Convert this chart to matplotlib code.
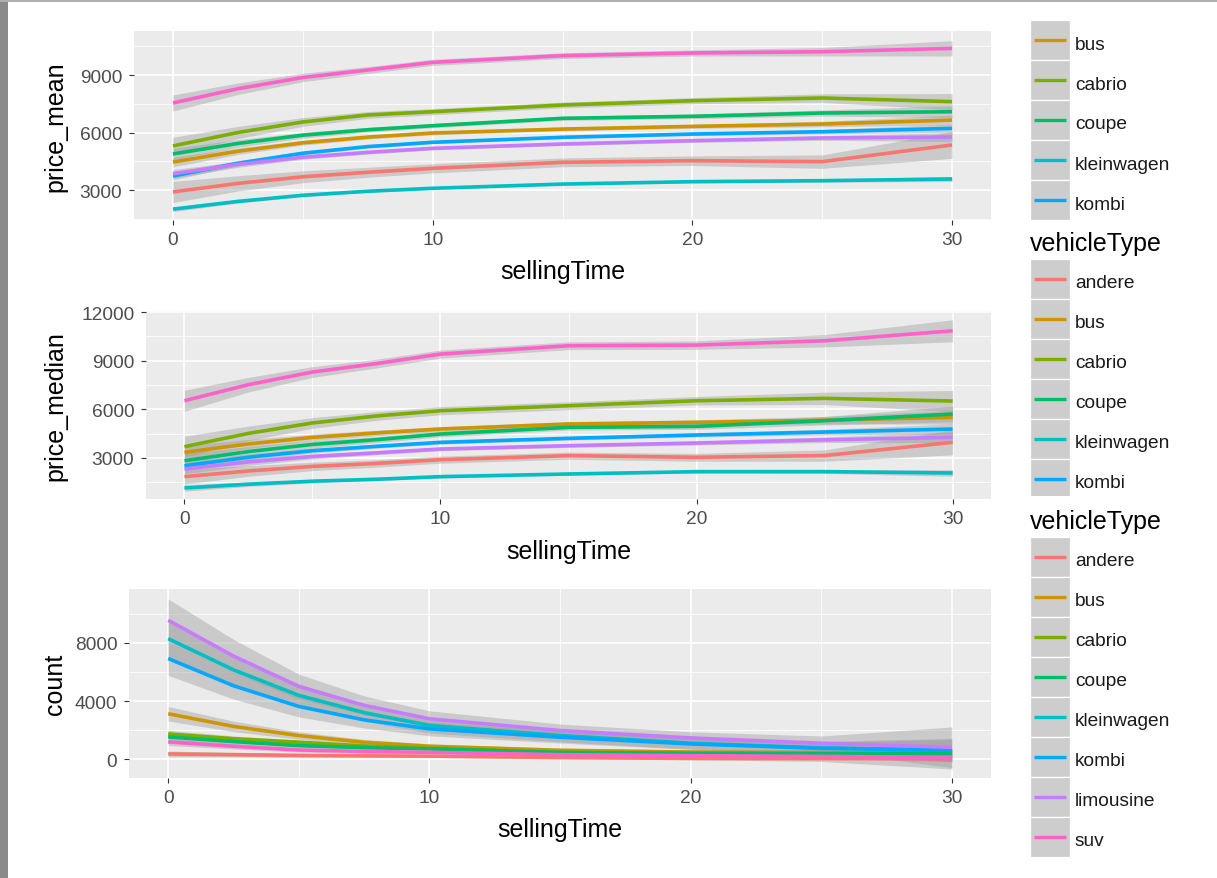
import matplotlib
matplotlib.use('Agg')
import matplotlib.pyplot as plt
from matplotlib.patches import Rectangle
from matplotlib.lines import Line2D
from matplotlib.transforms import Bbox, TransformedBbox

plt.rcParams['font.family'] = ['Liberation Sans', 'DejaVu Sans']

# ---------------- data ----------------
selling_time = [0, 2.5, 5, 7.5, 10, 15, 20, 25, 30]
vehicle_types = ['andere', 'bus', 'cabrio', 'coupe', 'kleinwagen', 'kombi', 'limousine', 'suv']
type_colors = ['#F8766D', '#CD9600', '#7CAE00', '#00BE67', '#00BFC4', '#00A9FF', '#C77CFF', '#FF61CC']

price_mean = {
    'andere':     [2900, 3345, 3690, 3925, 4130, 4445, 4530, 4480, 5350],
    'bus':        [4460, 5025, 5465, 5760, 5974, 6180, 6320, 6443, 6650],
    'cabrio':     [5300, 6000, 6550, 6915, 7085, 7435, 7660, 7800, 7610],
    'coupe':      [4880, 5430, 5860, 6145, 6355, 6740, 6845, 7017, 7085],
    'kleinwagen': [2000, 2405, 2725, 2935, 3090, 3310, 3435, 3487, 3575],
    'kombi':      [3730, 4395, 4920, 5265, 5490, 5750, 5920, 6043, 6217],
    'limousine':  [3850, 4335, 4710, 4965, 5175, 5400, 5575, 5713, 5765],
    'suv':        [7540, 8285, 8870, 9260, 9660, 10010, 10150, 10215, 10390],
}
price_mean_se = {
    'andere':     [550, 400, 310, 260, 240, 230, 250, 350, 700],
    'bus':        [250, 170, 120, 100, 90, 90, 100, 140, 260],
    'cabrio':     [450, 320, 230, 180, 160, 150, 160, 220, 420],
    'coupe':      [300, 200, 150, 120, 110, 110, 120, 160, 300],
    'kleinwagen': [120, 90, 70, 60, 55, 55, 60, 80, 130],
    'kombi':      [200, 140, 100, 80, 70, 70, 80, 110, 220],
    'limousine':  [220, 150, 110, 90, 80, 80, 90, 120, 230],
    'suv':        [420, 300, 220, 180, 160, 150, 160, 220, 400],
}

price_median = {
    'andere':     [1850, 2200, 2480, 2665, 2897, 3144, 3041, 3150, 3965],
    'bus':        [3350, 3865, 4270, 4545, 4786, 5094, 5197, 5330, 5506],
    'cabrio':     [3696, 4517, 5160, 5590, 5915, 6223, 6530, 6677, 6511],
    'coupe':      [2834, 3395, 3835, 4130, 4478, 4889, 4950, 5300, 5711],
    'kleinwagen': [1152, 1385, 1570, 1690, 1850, 2014, 2158, 2160, 2076],
    'kombi':      [2526, 3045, 3450, 3720, 3965, 4212, 4417, 4600, 4786],
    'limousine':  [2322, 2755, 3095, 3320, 3554, 3760, 3924, 4120, 4273],
    'suv':        [6530, 7520, 8300, 8820, 9406, 9920, 9960, 10226, 10842],
}
price_median_se = {
    'andere':     [450, 330, 260, 230, 220, 220, 240, 350, 770],
    'bus':        [400, 280, 200, 170, 150, 150, 160, 230, 420],
    'cabrio':     [650, 450, 330, 270, 250, 240, 260, 380, 650],
    'coupe':      [450, 310, 230, 190, 170, 170, 180, 260, 480],
    'kleinwagen': [200, 140, 100, 80, 75, 75, 80, 110, 200],
    'kombi':      [300, 210, 150, 120, 110, 110, 120, 170, 320],
    'limousine':  [300, 210, 150, 120, 110, 110, 120, 170, 320],
    'suv':        [650, 450, 330, 270, 250, 240, 260, 380, 680],
}

count = {
    'andere':     [350, 300, 250, 220, 200, 100, 40, 30, 10],
    'bus':        [3120, 2250, 1615, 1150, 878, 600, 480, 440, 420],
    'cabrio':     [1730, 1400, 1157, 900, 740, 470, 400, 390, 400],
    'coupe':      [1520, 1200, 922, 780, 700, 450, 380, 360, 370],
    'kleinwagen': [8300, 6150, 4390, 3200, 2310, 1617, 1086, 762, 624],
    'kombi':      [6930, 5050, 3625, 2700, 2079, 1502, 1040, 740, 600],
    'limousine':  [9570, 7100, 5000, 3700, 2772, 1963, 1455, 1086, 808],
    'suv':        [1180, 880, 624, 520, 462, 300, 231, 180, 115],
}
count_se = {
    'andere':     [200, 150, 120, 100, 90, 80, 90, 200, 700],
    'bus':        [500, 360, 260, 200, 170, 150, 150, 180, 320],
    'cabrio':     [250, 190, 150, 120, 100, 90, 90, 120, 250],
    'coupe':      [250, 190, 150, 120, 100, 90, 90, 120, 250],
    'kleinwagen': [1350, 1050, 800, 600, 520, 430, 400, 450, 800],
    'kombi':      [1160, 920, 720, 560, 480, 400, 380, 420, 750],
    'limousine':  [1470, 1150, 850, 650, 550, 450, 420, 500, 1400],
    'suv':        [250, 190, 150, 120, 100, 90, 90, 120, 300],
}

x_ticks = [0, 10, 20, 30]
x_minor = [5, 15, 25]

# ---------------- figure ----------------
W, H = 1217, 879
fig = plt.figure(figsize=(W / 100, H / 100), dpi=100)
fig.patch.set_facecolor('white')


def fx(x):
    return x / W


def fy(y):
    return 1 - y / H


panels = [
    dict(vals=price_mean, se=price_mean_se, ylabel='price_mean',
         box=(134, 32, 991, 221), ylim=(1435, 11296),
         yticks=[3000, 6000, 9000], yminor=[1500, 4500, 7500, 10500]),
    dict(vals=price_median, se=price_median_se, ylabel='price_median',
         box=(146, 312, 991, 500), ylim=(472, 12062),
         yticks=[3000, 6000, 9000, 12000], yminor=[1500, 4500, 7500, 10500]),
    dict(vals=count, se=count_se, ylabel='count',
         box=(129, 590, 991, 779), ylim=(-1310, 11724),
         yticks=[0, 4000, 8000], yminor=[2000, 6000, 10000]),
]

for p in panels:
    l, t, r, b = p['box']
    ax = fig.add_axes([fx(l), fy(b), (r - l) / W, (b - t) / H])
    ax.set_facecolor('#EBEBEB')
    for s in ax.spines.values():
        s.set_visible(False)
    ax.set_axisbelow(True)
    ax.set_xlim(-1.5, 31.5)
    ax.set_ylim(*p['ylim'])
    ax.set_xticks(x_ticks)
    ax.set_xticks(x_minor, minor=True)
    ax.set_yticks(p['yticks'])
    ax.set_yticks(p['yminor'], minor=True)
    ax.set_xticklabels([str(v) for v in x_ticks])
    ax.set_yticklabels([str(v) for v in p['yticks']])
    ax.grid(which='major', color='white', linewidth=1.2)
    ax.grid(which='minor', color='white', linewidth=0.6)
    ax.tick_params(which='major', length=3.4, width=0.8, color='#333333',
                   labelsize=13.8, labelcolor='#4D4D4D')
    ax.tick_params(axis='x', which='major', pad=4.2)
    ax.tick_params(axis='y', which='major', pad=5.0)
    ax.tick_params(which='minor', length=0)

    for name, col in zip(vehicle_types, type_colors):
        v = p['vals'][name]
        e = p['se'][name]
        lo = [a - c for a, c in zip(v, e)]
        hi = [a + c for a, c in zip(v, e)]
        ax.fill_between(selling_time, lo, hi, color='#999999', alpha=0.4, linewidth=0)
        ax.plot(selling_time, v, color=col, linewidth=2.6,
                solid_capstyle='butt', solid_joinstyle='round')

    ax.set_xlabel('sellingTime', fontsize=18, color='black')
    ax.set_ylabel(p['ylabel'], fontsize=18, color='black')
    ax.xaxis.set_label_coords(0.5, -(51.5) / (b - t))
    ax.xaxis.label.set_va('center')
    ax.yaxis.set_label_coords((55 - l) / (r - l), 0.5)
    ax.yaxis.label.set_va('center')


# ---------------- legends (stacked, overlapping as in the original) ----------------
def draw_legend(first_box_top, entries, show_title, band_bottom):
    clip = TransformedBbox(Bbox.from_extents(0, fy(band_bottom), 1, 1),
                           fig.transFigure)
    if show_title:
        fig.text(fx(1030), fy(first_box_top - 9), 'vehicleType',
                 fontsize=18, va='baseline', ha='left', color='black')
    for i, name in enumerate(vehicle_types):
        if name not in entries:
            continue
        col = type_colors[i]
        top = first_box_top + 40 * i
        rect = Rectangle((fx(1030), fy(top + 40)), 40 / W, 40 / H,
                         transform=fig.transFigure, facecolor='#CDCDCD',
                         edgecolor='white', linewidth=0.9)
        fig.add_artist(rect)
        rect.set_clip_on(True)
        rect.set_clip_box(clip)
        ln = Line2D([fx(1034), fx(1066)], [fy(top + 20), fy(top + 20)],
                    transform=fig.transFigure, color=col, linewidth=2.4,
                    solid_capstyle='butt')
        fig.add_artist(ln)
        fig.text(fx(1075), fy(top + 28.5), name, fontsize=13.8,
                 va='baseline', ha='left', color='#1A1A1A')


draw_legend(-19, ['bus', 'cabrio', 'coupe', 'kleinwagen', 'kombi'], False, 222)
draw_legend(260, ['andere', 'bus', 'cabrio', 'coupe', 'kleinwagen', 'kombi'], True, 497)
draw_legend(538, vehicle_types, True, 879)

# screenshot frame
fig.add_artist(Rectangle((0, 0), 8 / W, 1, transform=fig.transFigure,
                         facecolor='#8A8A8A', edgecolor='none'))
fig.add_artist(Rectangle((0, fy(3)), 1, 3 / H, transform=fig.transFigure,
                         facecolor='#B0B0B0', edgecolor='none'))

fig.savefig('out.png', dpi=100)
